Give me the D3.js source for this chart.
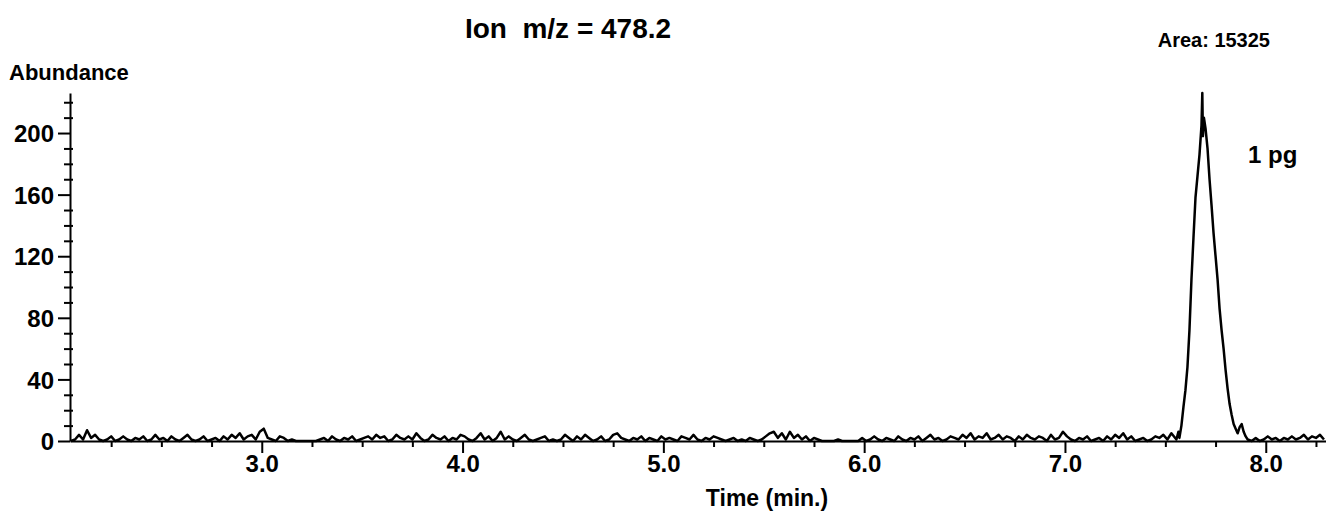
<!DOCTYPE html>
<html>
<head>
<meta charset="utf-8">
<script src="https://cdn.jsdelivr.net/npm/d3@7"></script>
<style>
  body { margin: 0; background: #fff; }
  svg text { font-family: "Liberation Sans", Arial, sans-serif; font-weight: bold; fill: #000; }
</style>
</head>
<body>
<script>
// chart values
const titleText = "Ion  m/z = 478.2";
const areaText = "Area: 15325";
const sampleLabel = "1 pg";
const yMajorTicks = [0, 40, 80, 120, 160, 200];
const yMinorTicks = [10, 20, 30, 50, 60, 70, 90, 100, 110, 130, 140, 150, 170, 180, 190, 210, 220];
const xMajorTicks = [3, 4, 5, 6, 7, 8];
const xMinorTicks = [2.25, 2.5, 2.75, 3.25, 3.5, 3.75, 4.25, 4.5, 4.75, 5.25, 5.5, 5.75,
                     6.25, 6.5, 6.75, 7.25, 7.5, 7.75, 8.25];

// baseline noise, one scan every 0.02 min from 2.05 to 7.53
const baseStart = 2.05, scanStep = 0.02;
const baselineA = [
  0,1,4,1,7,2,4,1,0,1,3,0,1,3,1,0,2,1,3,0,1,4,1,2,0,
  3,1,0,2,4,1,0,1,3,0,1,2,0,3,1,4,2,5,1,3,4,1,6,8,2,
  1,0,3,2,0,1,0,0,0,0,0,0,1,2,0,3,1,0,2,1,3,0,1,2,3,
  1,4,2,3,0,1,4,2,1,3,1,5,2,0,1,4,2,1,3,0,2,1,4,3,1,
  0,2,5,1,3,0,2,6,1,3,1,0,2,4,1,0,1,2,3,0,1,0,1,4,2,
  0,3,1,4,2,0,1,3,0,1,4,5,2,1,0,2,1,3,0,2,1,0,3,1,2,
  1,0,3,2,1,4,1,0,2,1,3,2,1,0,1,2,0,1,0,2,1,0,1,3,5,
  6,2,5,1,6,2,4,1,3,0,2,1,0,0,0,0,1,0,0,0,0,0,2,0,1,
  3,1,0,2,1,0,3,1,0,2,1,3,0,2,4,1,2,0,1,3,2,1,4,2,5,
  1,3,2,5,1,2,4,1,3,2,0,3,1,4,2,1,3,2,0,4,1,2,6,3,1,
  0,2,1,3,0,1,2,0,3,1,4,2,5,1,3,0,1,2,0,1,3,2,4,1,5
];
// the peak at 7.7 min: [time, abundance]
const peakPoints = [
  [7.555,1],[7.565,6],[7.57,2],[7.58,10],[7.59,22],[7.60,33],[7.61,48],[7.62,72],
  [7.63,105],[7.64,132],[7.65,158],[7.66,172],[7.67,186],[7.68,205],[7.684,226],
  [7.687,198],[7.692,210],[7.70,203],[7.71,190],[7.72,170],[7.73,153],[7.74,135],
  [7.75,120],[7.76,105],[7.77,86],[7.78,72],[7.79,60],[7.80,46],[7.81,34],[7.82,24],
  [7.83,17],[7.84,11],[7.85,8],[7.86,5],[7.87,9],[7.88,11],[7.89,6],[7.90,3],[7.91,1],[7.93,0]
];
// tail after the peak, every 0.02 min from 7.95
const tailStart = 7.95;
const baselineB = [2,0,1,3,1,2,0,2,1,3,1,2,4,1,3,2,4,1];

// build the trace
const trace = [];
baselineA.forEach((v, i) => trace.push([baseStart + i * scanStep, v]));
peakPoints.forEach(p => trace.push(p));
baselineB.forEach((v, i) => trace.push([tailStart + i * scanStep, v]));

const width = 1326, height = 513;
const svg = d3.select("body").append("svg")
  .attr("width", width)
  .attr("height", height);

const x = d3.scaleLinear().domain([2.045, 8.3]).range([70, 1326]);
const y = d3.scaleLinear().domain([0, 226]).range([441, 93]);

// y axis, minor ticks cross the line a little
svg.append("g")
  .attr("transform", "translate(70,0)")
  .call(d3.axisLeft(y).tickValues(yMinorTicks).tickSize(6).tickSizeOuter(0).tickFormat(""))
  .call(g => g.select(".domain").remove())
  .selectAll("line").attr("x1", 3).attr("stroke-width", 2);

const yAx = svg.append("g")
  .attr("transform", "translate(70,0)")
  .call(d3.axisLeft(y).tickValues(yMajorTicks).tickSize(12).tickSizeOuter(0).tickPadding(4));
yAx.selectAll("line").attr("stroke-width", 2);
yAx.select(".domain").attr("stroke-width", 2);
yAx.selectAll("text").style("font-size", "24px").attr("font-family", null).attr("dy", "0.36em");

// x axis
svg.append("g")
  .attr("transform", "translate(0,441)")
  .call(d3.axisBottom(x).tickValues(xMinorTicks).tickSize(6).tickSizeOuter(0).tickFormat(""))
  .call(g => g.select(".domain").remove())
  .selectAll("line").attr("stroke-width", 2);

const xAx = svg.append("g")
  .attr("transform", "translate(0,441)")
  .call(d3.axisBottom(x).tickValues(xMajorTicks).tickSize(12).tickSizeOuter(0)
    .tickPadding(2).tickFormat(d3.format(".1f")));
xAx.selectAll("line").attr("stroke-width", 2);
xAx.select(".domain").attr("stroke-width", 2);
xAx.selectAll("text").style("font-size", "24px").attr("font-family", null);

// trace
const line = d3.line().x(d => x(d[0])).y(d => y(d[1]));
svg.append("path")
  .datum(trace)
  .attr("fill", "none")
  .attr("stroke", "#000")
  .attr("stroke-width", 2.5)
  .attr("stroke-linejoin", "round")
  .attr("d", line);

// texts
svg.append("text").attr("x", 568).attr("y", 38)
  .attr("text-anchor", "middle").style("font-size", "28px").style("white-space", "pre")
  .text(titleText);
svg.append("text").attr("x", 1270).attr("y", 47)
  .attr("text-anchor", "end").style("font-size", "20px")
  .text(areaText);
svg.append("text").attr("x", 9).attr("y", 80)
  .style("font-size", "22px")
  .text("Abundance");
svg.append("text").attr("x", 1248).attr("y", 163)
  .style("font-size", "24px")
  .text(sampleLabel);
svg.append("text").attr("x", 767).attr("y", 506)
  .attr("text-anchor", "middle").style("font-size", "23px")
  .text("Time (min.)");
</script>
</body>
</html>
